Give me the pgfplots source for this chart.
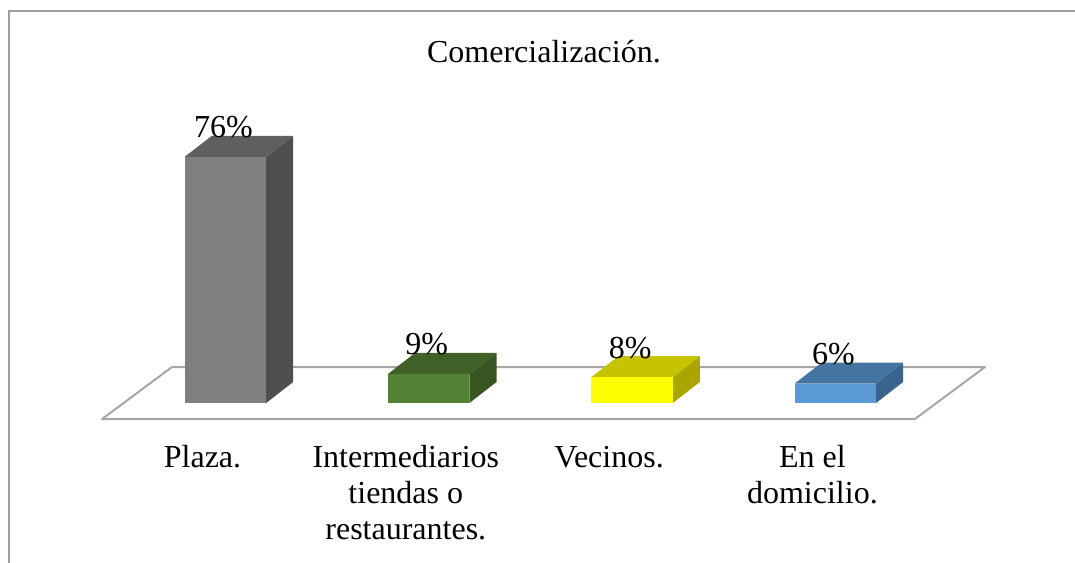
\documentclass[border=0pt]{standalone}
\usepackage{pgfplots}
\pgfplotsset{compat=1.18}
\usepackage{fontspec}
\setmainfont{Liberation Serif}
\definecolor{c1f}{HTML}{7F7F7F}
\definecolor{c1t}{HTML}{5F5F5F}
\definecolor{c1s}{HTML}{4F4F4F}
\definecolor{c2f}{HTML}{548235}
\definecolor{c2t}{HTML}{3F6128}
\definecolor{c2s}{HTML}{375623}
\definecolor{c3f}{HTML}{FFFF00}
\definecolor{c3t}{HTML}{C6C300}
\definecolor{c3s}{HTML}{AAA600}
\definecolor{c4f}{HTML}{5B9BD5}
\definecolor{c4t}{HTML}{4474A0}
\definecolor{c4s}{HTML}{3A648C}
\definecolor{floorc}{HTML}{A6A6A6}
\definecolor{framec}{HTML}{A0A0A0}
\newcommand{\chartfont}{\fontsize{16bp}{18bp}\selectfont}
\begin{document}
\begin{tikzpicture}
\begin{axis}[
  at={(0,0)}, anchor=south west,
  scale only axis, width=537.5bp, height=281.5bp,
  xmin=-1.1092, xmax=4.1786, ymin=-49.38, ymax=124.38,
  axis line style={draw=none},
  major tick length=0pt,
  ytick=\empty,
  xtick={0,1,2,3},
  xticklabels={Plaza., {Intermediarios\\tiendas o\\restaurantes.}, Vecinos., {En el\\domicilio.}},
  xticklabel style={anchor=base, align=flush center, text width=110bp, yshift=47.75bp, xshift=-11.5bp, font=\chartfont},
  title={Comercialización.},
  title style={at={(0.506,0.8675)}, anchor=base, font=\chartfont},
  clip=false,
  /pgf/number format/assume math mode=true,
  every node near coord/.append style={font=\chartfont, text=black},
]
% floor
\addplot[draw=floorc, line width=1bp, line join=round] coordinates {(-0.607,-4.94) (3.391,-4.94) (3.736,11.11) (-0.263,11.11)} -- cycle;
% bar 1: Plaza 76
\addplot[fill=c1s, draw=none] coordinates {(0.2,0) (0.333,6.48) (0.333,82.48) (0.2,76)} -- cycle;
\addplot[fill=c1t, draw=none] coordinates {(-0.2,76) (0.2,76) (0.333,82.48) (-0.067,82.48)} -- cycle;
% bar 2: 9
\addplot[fill=c2s, draw=none] coordinates {(1.2,0) (1.333,6.48) (1.333,15.48) (1.2,9)} -- cycle;
\addplot[fill=c2t, draw=none] coordinates {(0.8,9) (1.2,9) (1.333,15.48) (0.933,15.48)} -- cycle;
% bar 3: 8
\addplot[fill=c3s, draw=none] coordinates {(2.2,0) (2.333,6.48) (2.333,14.48) (2.2,8)} -- cycle;
\addplot[fill=c3t, draw=none] coordinates {(1.8,8) (2.2,8) (2.333,14.48) (1.933,14.48)} -- cycle;
% bar 4: 6
\addplot[fill=c4s, draw=none] coordinates {(3.2,0) (3.333,6.48) (3.333,12.48) (3.2,6)} -- cycle;
\addplot[fill=c4t, draw=none] coordinates {(2.8,6) (3.2,6) (3.333,12.48) (2.933,12.48)} -- cycle;
% front faces with labels
\addplot[ybar, bar width=0.4, bar shift=0pt, fill=c1f, draw=none,
  nodes near coords={\pgfmathprintnumber{\pgfplotspointmeta}\%},
  nodes near coords style={anchor=center, yshift=14.75bp, xshift=-1bp}] coordinates {(0,76)};
\addplot[ybar, bar width=0.4, bar shift=0pt, fill=c2f, draw=none,
  nodes near coords={\pgfmathprintnumber{\pgfplotspointmeta}\%},
  nodes near coords style={anchor=center, yshift=14.75bp, xshift=-1bp}] coordinates {(1,9)};
\addplot[ybar, bar width=0.4, bar shift=0pt, fill=c3f, draw=none,
  nodes near coords={\pgfmathprintnumber{\pgfplotspointmeta}\%},
  nodes near coords style={anchor=center, yshift=14.75bp, xshift=-1bp}] coordinates {(2,8)};
\addplot[ybar, bar width=0.4, bar shift=0pt, fill=c4f, draw=none,
  nodes near coords={\pgfmathprintnumber{\pgfplotspointmeta}\%},
  nodes near coords style={anchor=center, yshift=14.75bp, xshift=-1bp}] coordinates {(3,6)};
% frame
\draw[color=framec, line width=0.75bp] (rel axis cs:0.00837,0) |- (rel axis cs:1,0.9805);
\end{axis}
\pgfresetboundingbox
\path[use as bounding box] (0,0) rectangle (537.5bp,281.5bp);
\end{tikzpicture}
\end{document}
